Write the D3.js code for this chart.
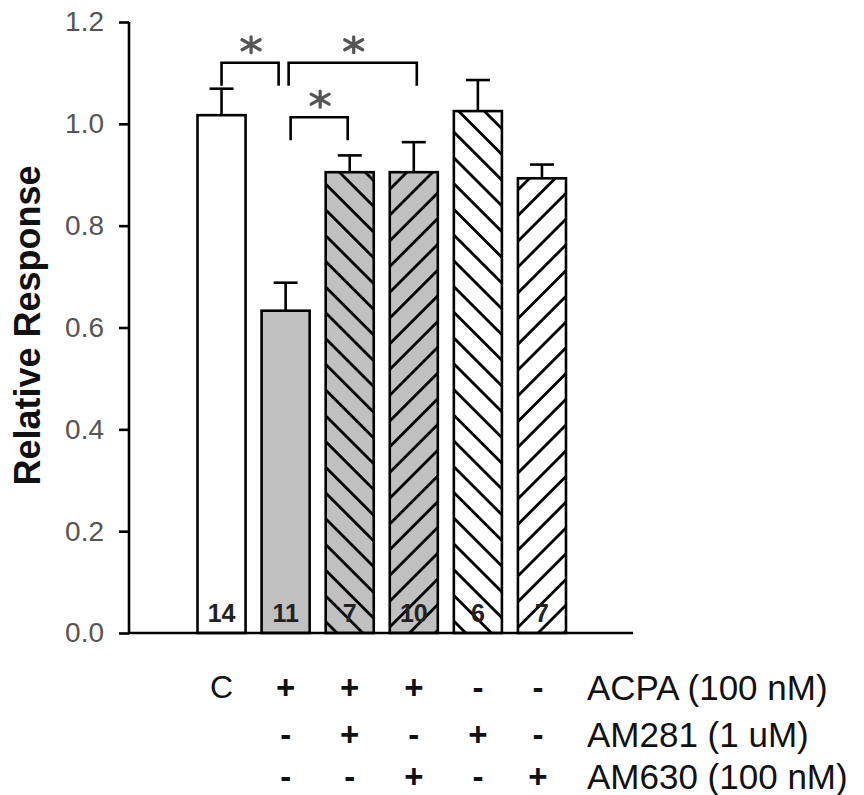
<!DOCTYPE html>
<meta charset="utf-8">
<style>
html, body { margin: 0; padding: 0; background: #fff; }
svg { display: block; font-family: "Liberation Sans", Arial, Helvetica, sans-serif; }
</style>
<body>
<svg width="864" height="795"></svg>
<script src="https://d3js.org/d3.v7.min.js"></script>
<script>

// groups, in bar order
var groups  = ["C", "ACPA", "ACPA+AM281", "ACPA+AM630", "AM281", "AM630"];
var means   = [1.017, 0.633, 0.905, 0.905, 1.025, 0.893];
var sems    = [0.052, 0.055, 0.033, 0.059, 0.061, 0.027];
var counts  = [14, 11, 7, 10, 6, 7];
var yTicks  = [0, 0.2, 0.4, 0.6, 0.8, 1.0, 1.2];

// treatment table under the bars
var rowLabels = ["ACPA (100 nM)", "AM281 (1 uM)", "AM630 (100 nM)"];
var rowACPA   = ["C", "+", "+", "+", "-", "-"];
var rowAM281  = ["",  "-", "+", "-", "+", "-"];
var rowAM630  = ["",  "-", "-", "+", "-", "+"];

// significance brackets: bar index from/to, bracket top and leg ends
var sigFrom = [0, 1, 1];
var sigTo   = [1, 3, 2];
var sigTop  = [1.12, 1.12, 1.013];
var sigLeg  = [1.075, 1.075, 0.968];

var svg = d3.select("svg");

var axisX = 129, axisRight = 633;
var y = d3.scaleLinear().domain([0, 1.2]).range([633, 22]);
var x = d3.scaleBand().domain(groups).range([189.5, 574])
    .paddingInner(0.25).paddingOuter(0.125);

// fills / hatch per bar
function bar_fill(i){ return ["#fff", "#c0c0c0", "url(#hatchBackGray)", "url(#hatchFwdGray)",
                               "url(#hatchBackWhite)", "url(#hatchFwdWhite)"][i]; }

var defs = svg.append("defs");
function make_hatch(id, angle, bg){
    var s = 18.2;
    var p = defs.append("pattern").attr("id", id)
        .attr("patternUnits", "userSpaceOnUse")
        .attr("width", s).attr("height", s)
        .attr("patternTransform", "rotate(" + angle + ")");
    p.append("rect").attr("width", s).attr("height", s).attr("fill", bg);
    p.append("line").attr("x1", s / 2).attr("x2", s / 2).attr("y1", -1).attr("y2", s + 1)
        .attr("stroke", "#000").attr("stroke-width", 2.8);
}
make_hatch("hatchBackGray", -45, "#c0c0c0");
make_hatch("hatchFwdGray", 45, "#c0c0c0");
make_hatch("hatchBackWhite", -45, "#fff");
make_hatch("hatchFwdWhite", 45, "#fff");

// y axis
var yAxis = d3.axisLeft(y).tickValues(yTicks).tickFormat(d3.format(".1f"))
    .tickSize(10).tickPadding(15);
var ga = svg.append("g").attr("transform", "translate(" + axisX + ",0)").call(yAxis);
ga.attr("font-size", null).attr("font-family", null);
ga.select(".domain").attr("d", "M0," + y(1.2) + "V" + y(0))
    .attr("stroke", "#000").attr("stroke-width", 2.6);
ga.selectAll(".tick line").attr("stroke", "#000").attr("stroke-width", 2.6);
ga.selectAll(".tick text").attr("fill", "#555").style("font-size", "28px");

svg.append("text")
    .attr("transform", "translate(27," + (y(0.6) - 2) + ") rotate(-90)")
    .attr("text-anchor", "middle").attr("dominant-baseline", "central")
    .style("font-size", "36px").style("font-weight", "bold").attr("fill", "#111")
    .text("Relative Response");

// error bars (upward only)
var cap = 24;
var eb = svg.append("g").attr("stroke", "#000").attr("stroke-width", 2.6);
groups.forEach(function(g, i){
    var cx = x(g) + x.bandwidth() / 2;
    eb.append("line").attr("x1", cx).attr("x2", cx)
        .attr("y1", y(means[i])).attr("y2", y(means[i] + sems[i]));
    eb.append("line").attr("x1", cx - cap / 2).attr("x2", cx + cap / 2)
        .attr("y1", y(means[i] + sems[i])).attr("y2", y(means[i] + sems[i]));
});

// bars
svg.append("g").selectAll("rect").data(groups).join("rect")
    .attr("x", function(d){ return x(d); })
    .attr("width", x.bandwidth())
    .attr("y", function(d, i){ return y(means[i]); })
    .attr("height", function(d, i){ return y(0) - y(means[i]); })
    .attr("fill", function(d, i){ return bar_fill(i); })
    .attr("stroke", "#000").attr("stroke-width", 2.6);

// baseline
svg.append("line").attr("x1", axisX).attr("x2", axisRight)
    .attr("y1", y(0)).attr("y2", y(0))
    .attr("stroke", "#000").attr("stroke-width", 2.6);

// n per bar
svg.append("g").selectAll("text").data(counts).join("text")
    .attr("x", function(d, i){ return x(groups[i]) + x.bandwidth() / 2; })
    .attr("y", y(0) - 11)
    .attr("text-anchor", "middle")
    .style("font-size", "25px").style("font-weight", "bold").attr("fill", "#222")
    .text(function(d){ return d; });

// significance brackets
var nudge1 = [0, 3, 5], nudge2 = [-7, 3, -2];
var sb = svg.append("g");
sigFrom.forEach(function(a, k){
    var x1 = x(groups[a]) + x.bandwidth() / 2 + nudge1[k];
    var x2 = x(groups[sigTo[k]]) + x.bandwidth() / 2 + nudge2[k];
    var yt = y(sigTop[k]), yl = y(sigLeg[k]);
    sb.append("path")
        .attr("d", "M" + x1 + "," + yl + "V" + yt + "H" + x2 + "V" + yl)
        .attr("fill", "none").attr("stroke", "#000").attr("stroke-width", 2.6);
    var cx = (x1 + x2) / 2 + 1, cy = yt - 18;
    sb.append("path")
        .attr("d", "M" + cx + "," + (cy - 8) + "V" + (cy + 8) +
                   "M" + (cx - 9) + "," + (cy - 5) + "L" + (cx + 9) + "," + (cy + 5) +
                   "M" + (cx - 9) + "," + (cy + 5) + "L" + (cx + 9) + "," + (cy - 5))
        .attr("stroke", "#555").attr("stroke-width", 3.2).attr("stroke-linecap", "round");
});

// treatment table
var rows = [rowACPA, rowAM281, rowAM630];
var rowY = [687, 734, 776];
rows.forEach(function(r, ri){
    svg.append("g").selectAll("text").data(r).join("text")
        .attr("x", function(d, i){ return x(groups[i]) + x.bandwidth() / 2 - (i == 5 ? 4 : 0); })
        .attr("y", rowY[ri])
        .attr("text-anchor", "middle").attr("dominant-baseline", "central")
        .style("font-size", function(d){ return d == "C" ? "32px" : "33px"; })
        .style("font-weight", function(d){ return d == "C" ? "normal" : "bold"; })
        .attr("fill", "#111")
        .text(function(d){ return d; });
    svg.append("text")
        .attr("x", 587).attr("y", rowY[ri] + 13)
        .style("font-size", "35px").attr("fill", "#111")
        .text(rowLabels[ri]);
});

</script>
</body>
